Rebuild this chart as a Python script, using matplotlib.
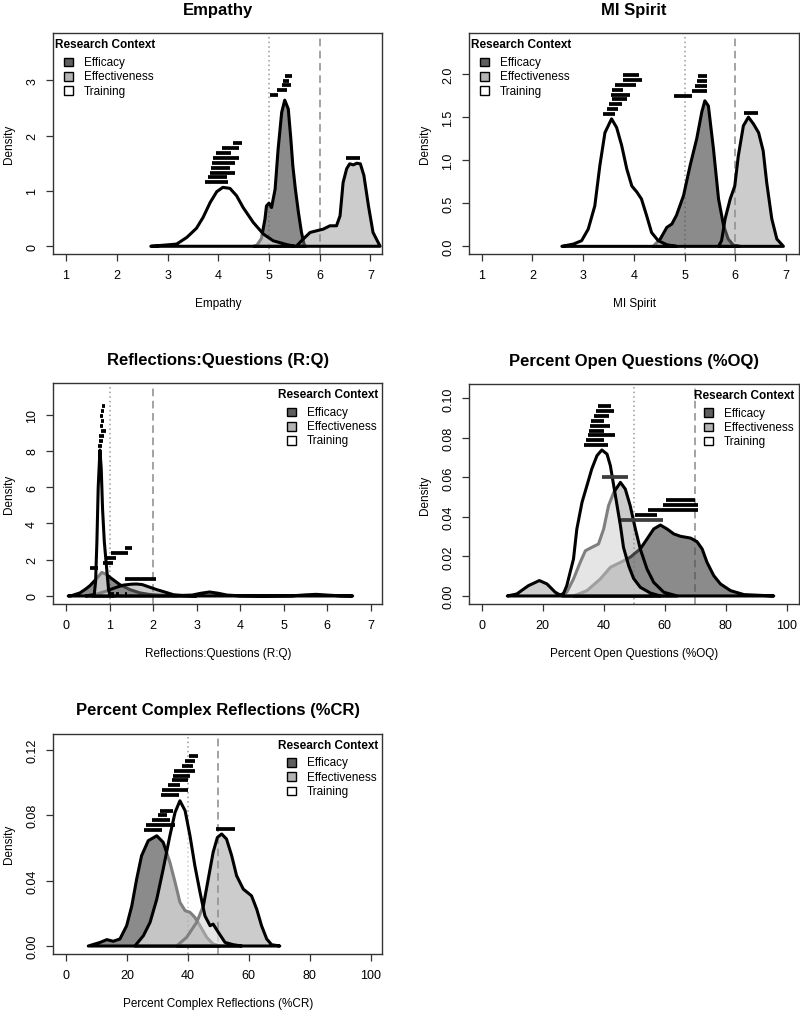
import matplotlib
matplotlib.use("Agg")
import matplotlib.pyplot as plt
from matplotlib.patches import Rectangle

plt.rcParams['font.family'] = ['Liberation Sans', 'DejaVu Sans']

groups = ["Efficacy", "Effectiveness", "Training"]
fill_colors = [(0.30, 0.30, 0.30, 0.65), (0.56, 0.56, 0.56, 0.45), (1.0, 1.0, 1.0, 0.5)]
key_colors = ['#5e5e5e', '#b3b3b3', 'white']

# ---------------------------
# Empathy
# ---------------------------
emp_efc_x = [4.70, 4.76, 4.85, 4.92, 4.95, 5.00, 5.05, 5.12, 5.18, 5.25, 5.31, 5.38, 5.43, 5.47, 5.52, 5.58, 5.64, 5.69, 5.72]
emp_efc_y = [0, 0.02, 0.14, 0.49, 0.73, 0.78, 0.70, 1.03, 1.76, 2.42, 2.64, 2.48, 1.94, 1.45, 1.03, 0.61, 0.25, 0.04, 0]
emp_eft_x = [5.54, 5.64, 5.81, 5.94, 6.07, 6.20, 6.33, 6.40, 6.46, 6.53, 6.59, 6.66, 6.73, 6.80, 6.87, 6.96, 7.05, 7.19]
emp_eft_y = [0, 0.10, 0.25, 0.28, 0.31, 0.37, 0.37, 0.55, 1.15, 1.40, 1.49, 1.47, 1.50, 1.49, 1.28, 0.73, 0.25, 0]
emp_trn_x = [2.67, 2.98, 3.18, 3.38, 3.57, 3.70, 3.84, 3.97, 4.09, 4.23, 4.36, 4.49, 4.69, 4.89, 5.08, 5.35, 5.51]
emp_trn_y = [0, 0.024, 0.04, 0.16, 0.325, 0.52, 0.79, 0.986, 1.064, 1.046, 0.914, 0.70, 0.43, 0.22, 0.10, 0.03, 0]
emp_bar_y = [1.166, 1.245, 1.329, 1.419, 1.509, 1.599, 1.690, 1.780, 1.865, 2.731, 2.816, 2.906, 2.989, 3.079, 1.594]
emp_bar_lo = [3.74, 3.79, 3.84, 3.86, 3.87, 3.90, 3.95, 4.07, 4.30, 5.01, 5.16, 5.25, 5.28, 5.31, 6.51]
emp_bar_hi = [4.20, 4.18, 4.33, 4.23, 4.32, 4.41, 4.26, 4.41, 4.47, 5.18, 5.36, 5.43, 5.39, 5.45, 6.79]

# ---------------------------
# MI Spirit
# ---------------------------
mi_efc_x = [4.38, 4.52, 4.65, 4.75, 4.84, 4.98, 5.11, 5.24, 5.34, 5.40, 5.47, 5.57, 5.67, 5.77, 5.86, 5.96, 6.09]
mi_efc_y = [0, 0.085, 0.22, 0.26, 0.36, 0.59, 0.94, 1.25, 1.56, 1.69, 1.63, 1.13, 0.55, 0.24, 0.085, 0.015, 0]
mi_eft_x = [5.67, 5.73, 5.80, 5.90, 5.99, 6.06, 6.16, 6.26, 6.36, 6.46, 6.55, 6.62, 6.72, 6.82, 6.95]
mi_eft_y = [0, 0.066, 0.32, 0.55, 0.70, 1.05, 1.40, 1.50, 1.42, 1.32, 1.11, 0.74, 0.32, 0.085, 0]
mi_trn_x = [2.58, 2.81, 2.97, 3.10, 3.23, 3.33, 3.43, 3.56, 3.66, 3.76, 3.86, 3.96, 4.06, 4.15, 4.25, 4.35, 4.48, 4.65, 4.84]
mi_trn_y = [0, 0.027, 0.066, 0.20, 0.47, 0.94, 1.32, 1.48, 1.38, 1.17, 0.90, 0.70, 0.63, 0.55, 0.36, 0.16, 0.066, 0.019, 0]
mi_bar_y = [1.536, 1.594, 1.652, 1.706, 1.760, 1.818, 1.876, 1.930, 1.988, 1.748, 1.806, 1.864, 1.922, 1.977, 1.543]
mi_bar_lo = [3.40, 3.47, 3.50, 3.56, 3.54, 3.56, 3.63, 3.78, 3.79, 4.79, 5.14, 5.21, 5.25, 5.27, 6.17]
mi_bar_hi = [3.63, 3.69, 3.76, 3.87, 3.92, 3.78, 4.04, 4.16, 4.11, 5.14, 5.45, 5.45, 5.44, 5.44, 6.45]

# ---------------------------
# Reflections:Questions
# ---------------------------
rq_efc_x = [0.05, 0.13, 0.32, 0.45, 0.55, 0.70, 0.82, 0.92, 1.01, 1.24, 1.47, 1.70, 1.93, 2.1, 2.5, 2.9, 3.1, 3.3, 3.5, 3.7, 4.0, 4.5, 5.2, 5.5, 5.75, 6.0, 6.3, 6.59]
rq_efc_y = [0, 0.02, 0.17, 0.38, 0.57, 0.95, 1.30, 1.20, 1.03, 0.62, 0.35, 0.17, 0.08, 0.05, 0.02, 0.05, 0.15, 0.22, 0.15, 0.05, 0.01, 0.0, 0.01, 0.06, 0.09, 0.05, 0.01, 0]
rq_eft_x = [0.45, 0.7, 0.9, 1.01, 1.15, 1.32, 1.5, 1.62, 1.75, 1.93, 2.1, 2.24, 2.47, 2.7, 3.0]
rq_eft_y = [0, 0.1, 0.25, 0.35, 0.47, 0.60, 0.65, 0.66, 0.63, 0.48, 0.34, 0.24, 0.07, 0.02, 0]
rq_trn_x = [0.60, 0.65, 0.68, 0.71, 0.74, 0.78, 0.81, 0.84, 0.88, 0.92, 0.95, 0.98, 1.02, 1.10]
rq_trn_y = [0, 0.1, 0.8, 3.0, 6.0, 8.05, 7.0, 4.8, 3.0, 1.9, 1.1, 0.3, 0.02, 0]
rq_bar_y = [10.46, 10.19, 9.91, 9.64, 9.38, 9.10, 8.83, 8.55, 8.29, 2.65, 2.37, 2.10, 1.84, 1.56, 0.94, 0.12, 0.12, 0.12]
rq_bar_lo = [0.82, 0.80, 0.79, 0.80, 0.79, 0.80, 0.76, 0.76, 0.74, 1.36, 1.03, 0.90, 0.86, 0.55, 1.36, 1.03, 1.15, 1.35]
rq_bar_hi = [0.90, 0.88, 0.85, 0.87, 0.85, 0.91, 0.88, 0.85, 0.82, 1.51, 1.43, 1.14, 1.09, 0.73, 2.08, 1.10, 1.22, 1.41]

# ---------------------------
# Percent Open Questions
# ---------------------------
oq_efc_x = [30.1, 34.5, 38.9, 42.2, 45.5, 48.7, 52.0, 54.2, 56.4, 58.6, 60.8, 63.0, 65.2, 68.5, 70.6, 72.3, 73.9, 76.1, 78.3, 81.6, 86.0, 95.8]
oq_efc_y = [0, 0.0027, 0.0086, 0.0145, 0.017, 0.0196, 0.0238, 0.0288, 0.0339, 0.0359, 0.0339, 0.0314, 0.0302, 0.0293, 0.0275, 0.0238, 0.017, 0.0103, 0.0061, 0.0027, 0.0007, 0]
oq_eft_x = [8.4, 11.5, 15.3, 18.9, 21.4, 24.1, 25.7, 27.9, 30.1, 32.3, 34.0, 36.1, 38.3, 40.0, 41.6, 43.3, 45.5, 47.1, 48.7, 50.4, 52.0, 54.2, 56.4, 59.7, 64.1]
oq_eft_y = [0, 0.001, 0.0052, 0.0078, 0.0061, 0.0019, 0.0005, 0.0019, 0.0086, 0.017, 0.0229, 0.0246, 0.0263, 0.0339, 0.0457, 0.0524, 0.0575, 0.0541, 0.0457, 0.0339, 0.0238, 0.0137, 0.0069, 0.0019, 0]
oq_trn_x = [26.5, 27.9, 30.1, 31.2, 32.9, 34.5, 36.1, 37.8, 39.4, 41.1, 42.2, 43.3, 44.4, 45.5, 46.5, 48.2, 49.8, 52.0, 55.3, 58.6]
oq_trn_y = [0, 0.0052, 0.0187, 0.0339, 0.0474, 0.0558, 0.0643, 0.071, 0.0739, 0.0718, 0.0659, 0.0558, 0.0457, 0.0356, 0.0246, 0.0153, 0.0089, 0.0044, 0.0015, 0]
oq_bar_y = [0.0764, 0.0788, 0.0813, 0.0836, 0.0861, 0.0887, 0.0910, 0.0934, 0.0960, 0.0486, 0.0460, 0.0436, 0.0409, 0.0385, 0.0600]
oq_bar_lo = [33.6, 34.3, 34.7, 35.1, 35.6, 35.9, 36.7, 37.5, 38.0, 60.5, 59.3, 54.4, 50.4, 45.7, 39.4]
oq_bar_hi = [41.3, 40.0, 43.8, 40.2, 42.2, 40.0, 41.6, 43.5, 42.4, 70.1, 71.1, 71.0, 57.4, 59.6, 48.0]
oq_bar_gray = [False] * 13 + [True, True]

# ---------------------------
# Percent Complex Reflections
# ---------------------------
cr_efc_x = [7.3, 11.2, 13.4, 15.5, 17.7, 19.9, 21.6, 23.2, 24.8, 27.0, 29.8, 31.9, 34.1, 35.8, 37.4, 39.1, 40.7, 42.3, 44.0, 46.2, 48.3, 50.5]
cr_efc_y = [0, 0.0022, 0.0039, 0.0029, 0.0043, 0.0124, 0.0246, 0.041, 0.0552, 0.0644, 0.0674, 0.0634, 0.0512, 0.039, 0.0267, 0.0216, 0.0206, 0.0175, 0.0124, 0.0053, 0.0012, 0]
cr_eft_x = [36.3, 39.6, 42.9, 45.1, 46.7, 48.3, 49.7, 51.1, 52.7, 54.4, 56.0, 58.2, 60.9, 62.6, 64.2, 65.9, 67.5, 70.2]
cr_eft_y = [0, 0.0053, 0.0145, 0.0246, 0.041, 0.0573, 0.0664, 0.0685, 0.0654, 0.0552, 0.043, 0.0348, 0.0307, 0.0226, 0.0124, 0.0043, 0.0008, 0]
cr_trn_x = [22.6, 25.4, 27.6, 29.8, 31.9, 34.1, 35.8, 37.4, 39.1, 40.7, 42.3, 44.0, 45.6, 47.3, 48.3, 50.0, 52.2, 54.9, 57.7]
cr_trn_y = [0, 0.0063, 0.0145, 0.0287, 0.047, 0.0674, 0.0817, 0.0888, 0.0827, 0.0674, 0.0491, 0.0328, 0.0185, 0.0124, 0.0134, 0.0084, 0.0022, 0.0008, 0]
cr_bar_y = [0.1160, 0.1131, 0.1102, 0.1072, 0.1041, 0.1013, 0.0982, 0.0954, 0.0925, 0.0827, 0.0799, 0.0768, 0.0738, 0.0709, 0.0715]
cr_bar_lo = [40.4, 39.1, 38.2, 35.5, 35.2, 34.7, 33.6, 31.4, 31.2, 30.9, 30.3, 28.1, 26.2, 25.7, 49.1]
cr_bar_hi = [43.4, 42.3, 41.8, 42.3, 40.7, 39.9, 37.4, 39.9, 37.1, 35.2, 33.0, 34.1, 35.8, 31.4, 55.5]

panels = [
    dict(title="Empathy", xlabel="Empathy", pos=[0.0667, 0.748, 0.411, 0.218],
         xlim=(0.75, 7.23), ylim=(-0.14, 3.845), xticks=range(1, 8), yticks=[0, 1, 2, 3],
         ylabels=["0", "1", "2", "3"], refs=(5, 6), key="left",
         curves=[(emp_efc_x, emp_efc_y), (emp_eft_x, emp_eft_y), (emp_trn_x, emp_trn_y)],
         bars=(emp_bar_y, emp_bar_lo, emp_bar_hi, None)),
    dict(title="MI Spirit", xlabel="MI Spirit", pos=[0.5867, 0.748, 0.412, 0.218],
         xlim=(0.756, 7.256), ylim=(-0.089, 2.472), xticks=range(1, 8), yticks=[0, 0.5, 1, 1.5, 2],
         ylabels=["0.0", "0.5", "1.0", "1.5", "2.0"], refs=(5, 6), key="left",
         curves=[(mi_efc_x, mi_efc_y), (mi_eft_x, mi_eft_y), (mi_trn_x, mi_trn_y)],
         bars=(mi_bar_y, mi_bar_lo, mi_bar_hi, None)),
    dict(title="Reflections:Questions (R:Q)", xlabel="Reflections:Questions (R:Q)",
         pos=[0.0667, 0.4022, 0.411, 0.218],
         xlim=(-0.291, 7.268), ylim=(-0.441, 11.73), xticks=range(0, 8), yticks=[0, 2, 4, 6, 8, 10],
         ylabels=["0", "2", "4", "6", "8", "10"], refs=(1, 2), key="right",
         curves=[(rq_efc_x, rq_efc_y), (rq_eft_x, rq_eft_y), (rq_trn_x, rq_trn_y)],
         bars=(rq_bar_y, rq_bar_lo, rq_bar_hi, None)),
    dict(title="Percent Open Questions (%OQ)", xlabel="Percent Open Questions (%OQ)",
         pos=[0.5867, 0.4022, 0.412, 0.2174],
         xlim=(-4.05, 104.05), ylim=(-0.00405, 0.1073), xticks=range(0, 101, 20),
         yticks=[0, 0.02, 0.04, 0.06, 0.08, 0.10],
         ylabels=["0.00", "0.02", "0.04", "0.06", "0.08", "0.10"], refs=(50, 70), key="right",
         curves=[(oq_efc_x, oq_efc_y), (oq_eft_x, oq_eft_y), (oq_trn_x, oq_trn_y)],
         bars=(oq_bar_y, oq_bar_lo, oq_bar_hi, oq_bar_gray)),
    dict(title="Percent Complex Reflections (%CR)", xlabel="Percent Complex Reflections (%CR)",
         pos=[0.0667, 0.0563, 0.411, 0.2177],
         xlim=(-4.16, 103.8), ylim=(-0.0049, 0.1298), xticks=range(0, 101, 20),
         yticks=[0, 0.04, 0.08, 0.12],
         ylabels=["0.00", "0.04", "0.08", "0.12"], refs=(40, 50), key="right",
         curves=[(cr_efc_x, cr_efc_y), (cr_eft_x, cr_eft_y), (cr_trn_x, cr_trn_y)],
         bars=(cr_bar_y, cr_bar_lo, cr_bar_hi, None)),
]

fig = plt.figure(figsize=(8.0, 10.12), dpi=100)

for p in panels:
    ax = fig.add_axes(p["pos"])
    ax.set_xlim(*p["xlim"])
    ax.set_ylim(*p["ylim"])

    # reference lines behind the densities
    ax.axvline(p["refs"][0], color='#9a9a9a', lw=1.1, ls=(0, (1, 2)), zorder=1)
    ax.axvline(p["refs"][1], color='#8a8a8a', lw=1.1, ls=(0, (5, 3)), zorder=1)

    # density polygons: efficacy, effectiveness, training
    for (cx, cy), fc in zip(p["curves"], fill_colors):
        ax.fill(cx, cy, facecolor=fc, edgecolor='black', lw=2.2, joinstyle='round', zorder=2)

    by, blo, bhi, bgray = p["bars"]
    for i in range(len(by)):
        col = '#3c3c3c' if (bgray is not None and bgray[i]) else 'black'
        ax.plot([blo[i], bhi[i]], [by[i], by[i]], color=col, lw=2.7,
                solid_capstyle='butt', zorder=3)

    ax.set_xticks(list(p["xticks"]))
    ax.set_yticks(p["yticks"])
    ax.set_yticklabels(p["ylabels"], rotation=90, va='center')
    ax.tick_params(direction='out', length=5, width=0.9, labelsize=9, pad=6, color='#333333')
    for s in ax.spines.values():
        s.set_linewidth(1.0)
        s.set_color('#333333')

    ax.set_title(p["title"], fontsize=12, fontweight='bold', pad=14)
    ax.set_xlabel(p["xlabel"], fontsize=8.5, labelpad=11)
    ax.set_ylabel("Density", fontsize=8.5, labelpad=8)

    # key for the research context
    if p["key"] == "left":
        ax.text(0.006, 0.952, "Research Context", transform=ax.transAxes, fontsize=8.5,
                fontweight='bold', ha='left', va='center')
        kx, tx = 0.033, 0.093
    else:
        ax.text(0.987, 0.951, "Research Context", transform=ax.transAxes, fontsize=8.5,
                fontweight='bold', ha='right', va='center')
        kx, tx = 0.712, 0.772
    for name, kc, ky in zip(groups, key_colors, [0.870, 0.805, 0.741]):
        ax.add_patch(Rectangle((kx, ky - 0.019), 0.026, 0.038, transform=ax.transAxes,
                               facecolor=kc, edgecolor='black', lw=1.0, zorder=5))
        ax.text(tx, ky, name, transform=ax.transAxes, fontsize=8.5, ha='left', va='center')

fig.savefig("out.png", dpi=100)
